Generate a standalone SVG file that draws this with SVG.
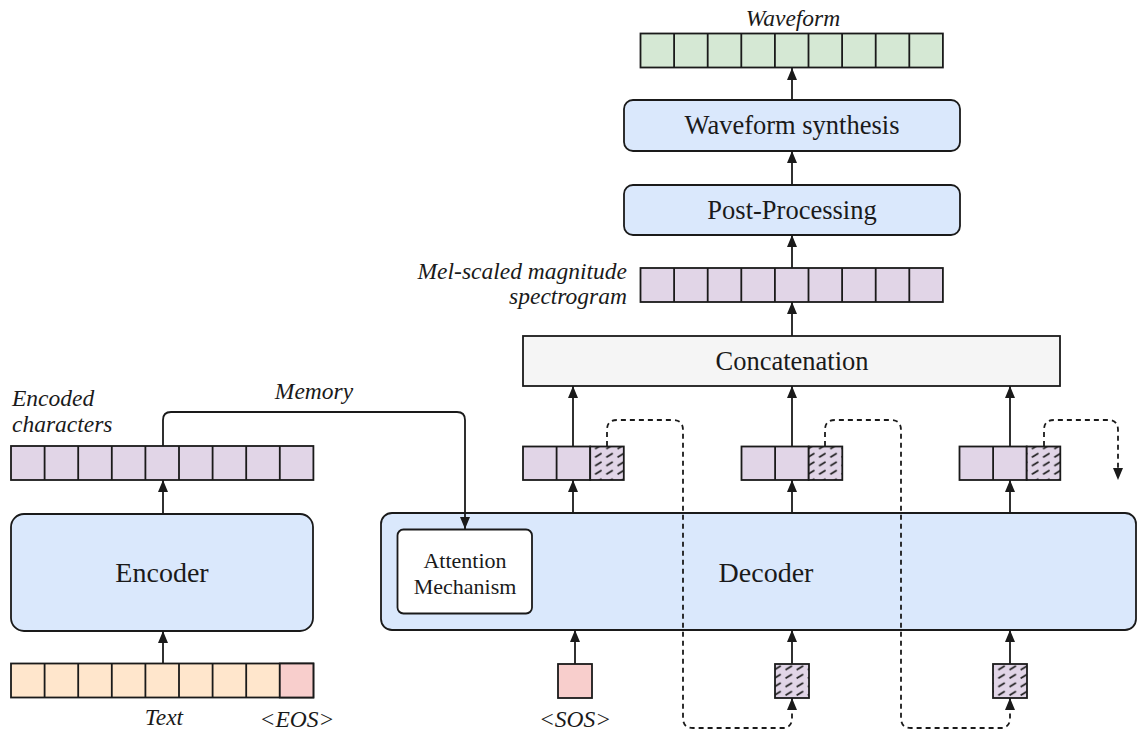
<svg xmlns="http://www.w3.org/2000/svg" width="1137" height="731" viewBox="0 0 1137 731">
  <style>
    .stk { stroke: #1a1a1a; stroke-width: 1.8; }
    .lav { fill: #e1d5e7; }
    .blue { fill: #dae8fc; }
    .green { fill: #d5e8d4; }
    .peach { fill: #ffe6cc; }
    .pink { fill: #f8cecc; }
    .grey { fill: #f5f5f5; }
    .hatch { fill: url(#hatch); }
    .lbl { font-family: "Liberation Serif", "Times New Roman", serif; font-size: 26.5px; fill: #1a1a1a; text-anchor: middle; }
    .big { font-size: 28px; }
    .small { font-size: 22px; }
    .it { font-family: "Liberation Serif", "Times New Roman", serif; font-style: italic; font-size: 23.5px; fill: #1a1a1a; }
    .wire { fill: none; stroke: #1a1a1a; stroke-width: 1.8; }
    .dash { fill: none; stroke: #1a1a1a; stroke-width: 1.8; stroke-dasharray: 5 4; }
  </style>
  <defs>
    <marker id="arrowL" viewBox="0 0 12 10" refX="12" refY="5" markerWidth="12" markerHeight="10" markerUnits="userSpaceOnUse" orient="auto">
      <path d="M0,0 L12,5 L0,10 Z" fill="#1a1a1a"/>
    </marker>
    <pattern id="hatch" patternUnits="userSpaceOnUse" width="11.2" height="8.5">
      <rect width="11.2" height="8.5" fill="#e1d5e7"/>
      <line x1="1.5" y1="6.8" x2="8" y2="2.8" stroke="#1a1a1a" stroke-width="1.7"/>
    </pattern>
    <!-- nine-cell strip, 33.6 px per cell -->
    <g id="strip9">
      <rect x="0" y="0" width="302.4" height="34"/>
      <path d="M33.6,0V34M67.2,0V34M100.8,0V34M134.4,0V34M168,0V34M201.6,0V34M235.2,0V34M268.8,0V34" fill="none"/>
    </g>
  </defs>

  <rect width="1137" height="731" fill="#ffffff"/>

  <!-- waveform output -->
  <g id="waveform">
    <use href="#strip9" x="640.5" y="33.5" class="green stk"/>
    <text class="it" x="793" y="26" text-anchor="middle">Waveform</text>
  </g>

  <g id="waveform-synthesis">
    <rect class="blue stk" x="624" y="100" width="336" height="51" rx="9"/>
    <text class="lbl" x="792" y="134">Waveform synthesis</text>
  </g>

  <g id="post-processing">
    <rect class="blue stk" x="624" y="185" width="336" height="50" rx="9"/>
    <text class="lbl" x="792" y="219">Post-Processing</text>
  </g>

  <g id="mel-spectrogram">
    <use href="#strip9" x="640.5" y="268" class="lav stk"/>
    <text class="it" x="627" y="279" text-anchor="end">Mel-scaled magnitude</text>
    <text class="it" x="627" y="304" text-anchor="end">spectrogram</text>
  </g>

  <g id="concatenation">
    <rect class="grey stk" x="523" y="336" width="537" height="50"/>
    <text class="lbl" x="792" y="370">Concatenation</text>
  </g>

  <!-- decoder step outputs -->
  <g id="frame-1">
    <rect class="lav stk" x="523" y="446.5" width="67.2" height="33.5"/>
    <line class="stk" x1="556.6" y1="446.5" x2="556.6" y2="480"/>
    <rect class="hatch stk" x="590.2" y="446.5" width="33.6" height="33.5"/>
  </g>
  <g id="frame-2">
    <rect class="lav stk" x="741.5" y="446.5" width="67.2" height="33.5"/>
    <line class="stk" x1="775.1" y1="446.5" x2="775.1" y2="480"/>
    <rect class="hatch stk" x="808.7" y="446.5" width="33.6" height="33.5"/>
  </g>
  <g id="frame-3">
    <rect class="lav stk" x="959.5" y="446.5" width="67.2" height="33.5"/>
    <line class="stk" x1="993.1" y1="446.5" x2="993.1" y2="480"/>
    <rect class="hatch stk" x="1026.7" y="446.5" width="33.6" height="33.5"/>
  </g>

  <!-- encoder side -->
  <g id="encoded-characters">
    <use href="#strip9" x="11" y="446" class="lav stk"/>
    <text class="it" x="12" y="406">Encoded</text>
    <text class="it" x="12" y="432">characters</text>
    <text class="it" x="314" y="399" text-anchor="middle">Memory</text>
  </g>

  <g id="encoder">
    <rect class="blue stk" x="11" y="514" width="302" height="117" rx="13"/>
    <text class="lbl big" x="162" y="582">Encoder</text>
  </g>

  <g id="text-input">
    <use href="#strip9" x="11" y="663.5" class="peach stk"/>
    <rect class="pink stk" x="279.8" y="663.5" width="33.6" height="34"/>
    <text class="it" x="164" y="725" text-anchor="middle">Text</text>
    <text class="it" x="297" y="727" text-anchor="middle">&lt;EOS&gt;</text>
  </g>

  <!-- decoder -->
  <g id="decoder">
    <rect class="blue stk" x="381" y="513" width="755" height="117" rx="11"/>
    <text class="lbl big" x="766" y="582">Decoder</text>
  </g>

  <g id="attention">
    <rect class="stk" fill="#ffffff" x="397.5" y="529.5" width="134.5" height="84" rx="6"/>
    <text class="lbl small" x="465" y="568">Attention</text>
    <text class="lbl small" x="465" y="594">Mechanism</text>
  </g>

  <!-- decoder step inputs -->
  <g id="sos">
    <rect class="pink stk" x="558" y="664" width="34" height="34"/>
    <text class="it" x="575" y="727" text-anchor="middle">&lt;SOS&gt;</text>
  </g>
  <g id="feedback-1">
    <rect class="hatch stk" x="775" y="664" width="34" height="34"/>
  </g>
  <g id="feedback-2">
    <rect class="hatch stk" x="993" y="664" width="34" height="34"/>
  </g>

  <!-- connectors, drawn last so they run over the decoder block -->
  <g id="connectors">
    <!-- encoder column -->
    <line class="wire" x1="163" y1="663" x2="163" y2="631" marker-end="url(#arrowL)"/>
    <line class="wire" x1="163" y1="514" x2="163" y2="480" marker-end="url(#arrowL)"/>
    <!-- memory -->
    <path class="wire" d="M163,446 V420 Q163,412 171,412 H457 Q465,412 465,420 V529" marker-end="url(#arrowL)"/>
    <!-- decoder inputs -->
    <line class="wire" x1="575" y1="664" x2="575" y2="630" marker-end="url(#arrowL)"/>
    <line class="wire" x1="792" y1="664" x2="792" y2="630" marker-end="url(#arrowL)"/>
    <line class="wire" x1="1010" y1="664" x2="1010" y2="630" marker-end="url(#arrowL)"/>
    <!-- decoder outputs -->
    <line class="wire" x1="573" y1="513" x2="573" y2="480" marker-end="url(#arrowL)"/>
    <line class="wire" x1="792" y1="513" x2="792" y2="480" marker-end="url(#arrowL)"/>
    <line class="wire" x1="1010" y1="513" x2="1010" y2="480" marker-end="url(#arrowL)"/>
    <line class="wire" x1="573" y1="446" x2="573" y2="386" marker-end="url(#arrowL)"/>
    <line class="wire" x1="792" y1="446" x2="792" y2="386" marker-end="url(#arrowL)"/>
    <line class="wire" x1="1010" y1="446" x2="1010" y2="386" marker-end="url(#arrowL)"/>
    <!-- output column -->
    <line class="wire" x1="792" y1="336" x2="792" y2="302" marker-end="url(#arrowL)"/>
    <line class="wire" x1="792" y1="268" x2="792" y2="235" marker-end="url(#arrowL)"/>
    <line class="wire" x1="792" y1="185" x2="792" y2="151" marker-end="url(#arrowL)"/>
    <line class="wire" x1="792" y1="100" x2="792" y2="68" marker-end="url(#arrowL)"/>
    <!-- feedback loops -->
    <path class="dash" d="M607,446 V430 Q607,420 617,420 H673 Q683,420 683,430 V718 Q683,728 693,728 H782 Q792,728 792,718 V698" marker-end="url(#arrowL)"/>
    <path class="dash" d="M825,446 V430 Q825,420 835,420 H891 Q901,420 901,430 V718 Q901,728 911,728 H1000 Q1010,728 1010,718 V698" marker-end="url(#arrowL)"/>
    <path class="dash" d="M1044,446 V430 Q1044,420 1054,420 H1108 Q1118,420 1118,430 V480" marker-end="url(#arrowL)"/>
  </g>
</svg>
